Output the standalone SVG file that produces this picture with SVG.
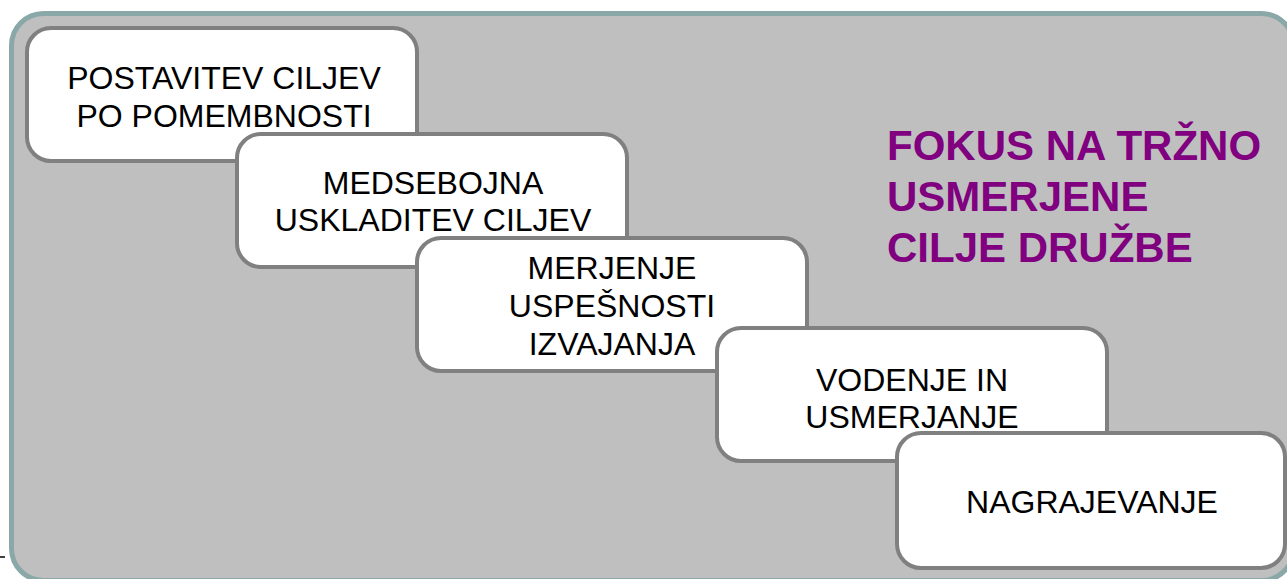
<svg xmlns="http://www.w3.org/2000/svg" width="1287" height="579" viewBox="0 0 1287 579">
  <style>
    .panel { fill: #bfbfbf; stroke: #8ba8a9; stroke-width: 5; }
    .step { fill: #ffffff; stroke: #808080; stroke-width: 4; }
    .label { font-family: "Liberation Sans", Arial, sans-serif; font-size: 32px; fill: #000000; text-anchor: middle; }
    .focus { font-family: "Liberation Sans", Arial, sans-serif; font-size: 42px; font-weight: bold; fill: #800080; }
  </style>
  <rect width="1287" height="579" fill="#ffffff"/>
  <!-- background panel -->
  <rect class="panel" x="11.5" y="13.5" width="1282" height="567" rx="32" ry="32"/>
  <line x1="0" y1="557" x2="5" y2="557" stroke="#000000" stroke-width="1.5"/>

  <g id="connectors"></g>

  <g id="step1">
    <rect class="step" x="27" y="28" width="390" height="133" rx="24" ry="24"/>
    <text class="label" x="224" y="89">POSTAVITEV CILJEV</text>
    <text class="label" x="224" y="127">PO POMEMBNOSTI</text>
  </g>
  <g id="step2">
    <rect class="step" x="237" y="134" width="390" height="133" rx="24" ry="24"/>
    <text class="label" x="433" y="194">MEDSEBOJNA</text>
    <text class="label" x="433" y="231">USKLADITEV CILJEV</text>
  </g>
  <g id="step3">
    <rect class="step" x="417" y="238" width="390" height="133" rx="24" ry="24"/>
    <text class="label" x="612" y="279">MERJENJE</text>
    <text class="label" x="612" y="317">USPEŠNOSTI</text>
    <text class="label" x="612" y="355">IZVAJANJA</text>
  </g>
  <g id="step4">
    <rect class="step" x="717" y="328" width="390" height="133" rx="24" ry="24"/>
    <text class="label" x="912" y="391">VODENJE IN</text>
    <text class="label" x="912" y="428">USMERJANJE</text>
  </g>
  <g id="step5">
    <rect class="step" x="897" y="433" width="388" height="135" rx="24" ry="24"/>
    <text class="label" x="1092" y="513">NAGRAJEVANJE</text>
  </g>

  <g id="focus">
    <text class="focus" x="887" y="160">FOKUS NA TRŽNO</text>
    <text class="focus" x="887" y="211">USMERJENE</text>
    <text class="focus" x="887" y="262">CILJE DRUŽBE</text>
  </g>
</svg>
